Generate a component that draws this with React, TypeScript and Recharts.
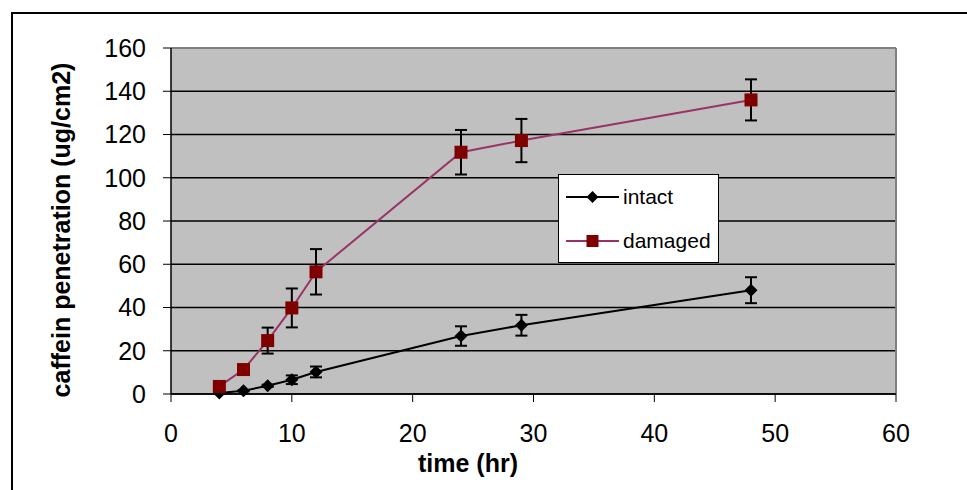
import { LineChart, Line, XAxis, YAxis, CartesianGrid, ErrorBar, ReferenceLine } from 'recharts';

const times = [4, 6, 8, 10, 12, 24, 29, 48];
const intact = [0.5, 1.5, 3.8, 6.6, 10.2, 26.8, 31.8, 48];
const intactErr = [0.3, 0.3, 0.5, 2, 2.5, 4.5, 4.8, 6];
const damaged = [3.5, 11.3, 24.7, 39.8, 56.5, 111.8, 117.2, 136];
const damagedErr = [0.5, 1, 6, 9, 10.5, 10.3, 10, 9.5];
const xTicks = [0, 10, 20, 30, 40, 50, 60];
const yTicks = [0, 20, 40, 60, 80, 100, 120, 140, 160];

const data = times.map((t, i) => ({
  time: t,
  intact: intact[i],
  intactErr: intactErr[i],
  damaged: damaged[i],
  damagedErr: damagedErr[i],
}));

const FONT = 'Arial, "Liberation Sans", sans-serif';
const DAMAGED_LINE = '#993366';
const DAMAGED_MARK = '#800000';

function Diamond(props: any) {
  const { cx, cy } = props;
  if (cx == null || cy == null) return null;
  const r = 6.5;
  return <polygon points={`${cx},${cy - r} ${cx + r},${cy} ${cx},${cy + r} ${cx - r},${cy}`} fill="#000" />;
}

function Square(props: any) {
  const { cx, cy } = props;
  if (cx == null || cy == null) return null;
  return <rect x={cx - 6.5} y={cy - 6.5} width={13} height={13} fill={DAMAGED_MARK} />;
}

function LegendBox() {
  return (
    <div
      style={{
        position: 'absolute', left: 558, top: 174, width: 159, height: 87,
        background: '#fff', border: '1px solid #000', fontFamily: FONT,
      }}
    >
      <svg width={159} height={87} style={{ position: 'absolute', left: 0, top: 0 }}>
        <line x1={7} y1={22} x2={60} y2={22} stroke="#000" strokeWidth={2} />
        <polygon points="33.5,16 39.5,22 33.5,28 27.5,22" fill="#000" />
        <text x={64} y={29} fontSize={21} fontFamily={FONT} fill="#000">intact</text>
        <line x1={7} y1={66} x2={60} y2={66} stroke={DAMAGED_LINE} strokeWidth={2} />
        <rect x={27.5} y={60} width={12} height={12} fill={DAMAGED_MARK} />
        <text x={64} y={73} fontSize={21} fontFamily={FONT} fill="#000">damaged</text>
      </svg>
    </div>
  );
}

export default function App() {
  return (
    <div style={{ position: 'absolute', left: 0, top: 0, width: 967, height: 490, background: '#fff' }}>
      <div style={{ position: 'absolute', left: 11, top: 12, width: 970, height: 490, borderLeft: '2px solid #000', borderTop: '2px solid #000' }} />
      <LineChart
        width={967}
        height={490}
        data={data}
        margin={{ top: 48, right: 71, bottom: 0, left: 0 }}
        style={{ position: 'absolute', left: 0, top: 0, fontFamily: FONT }}
      >
        <CartesianGrid vertical={false} stroke="#000" strokeWidth={1.5} fill="#c0c0c0" fillOpacity={1} />
        <ReferenceLine y={160} stroke="#808080" strokeWidth={2} />
        <ReferenceLine x={60} stroke="#808080" strokeWidth={2} />
        <XAxis
          dataKey="time"
          type="number"
          domain={[0, 60]}
          ticks={xTicks}
          height={96}
          tickSize={8}
          tickMargin={22}
          axisLine={{ stroke: '#000', strokeWidth: 1.5 }}
          tickLine={{ stroke: '#000', strokeWidth: 1 }}
          tick={{ fill: '#000', fontSize: 25, fontFamily: FONT }}
          label={{
            content: () => (
              <text x={468} y={472} textAnchor="middle" fontSize={25} fontWeight="bold" fontFamily={FONT} fill="#000">
                time (hr)
              </text>
            ),
          }}
        />
        <YAxis
          type="number"
          domain={[0, 160]}
          ticks={yTicks}
          width={171}
          tickSize={8}
          tickMargin={17}
          axisLine={{ stroke: '#000', strokeWidth: 1.5 }}
          tickLine={{ stroke: '#000', strokeWidth: 1 }}
          tick={{ fill: '#000', fontSize: 25, fontFamily: FONT }}
          label={{
            content: () => (
              <text
                x={70}
                y={230}
                transform="rotate(-90, 70, 230)"
                textAnchor="middle"
                fontSize={25}
                fontWeight="bold"
                fontFamily={FONT}
                fill="#000"
              >
                caffein penetration (ug/cm2)
              </text>
            ),
          }}
        />
        <Line
          dataKey="intact"
          stroke="#000"
          strokeWidth={2}
          dot={<Diamond />}
          activeDot={false}
          isAnimationActive={false}
        >
          <ErrorBar dataKey="intactErr" direction="y" width={6} stroke="#000" strokeWidth={2} isAnimationActive={false} />
        </Line>
        <Line
          dataKey="damaged"
          stroke={DAMAGED_LINE}
          strokeWidth={2}
          dot={<Square />}
          activeDot={false}
          isAnimationActive={false}
        >
          <ErrorBar dataKey="damagedErr" direction="y" width={6} stroke="#000" strokeWidth={2} isAnimationActive={false} />
        </Line>
      </LineChart>
      <LegendBox />
    </div>
  );
}
